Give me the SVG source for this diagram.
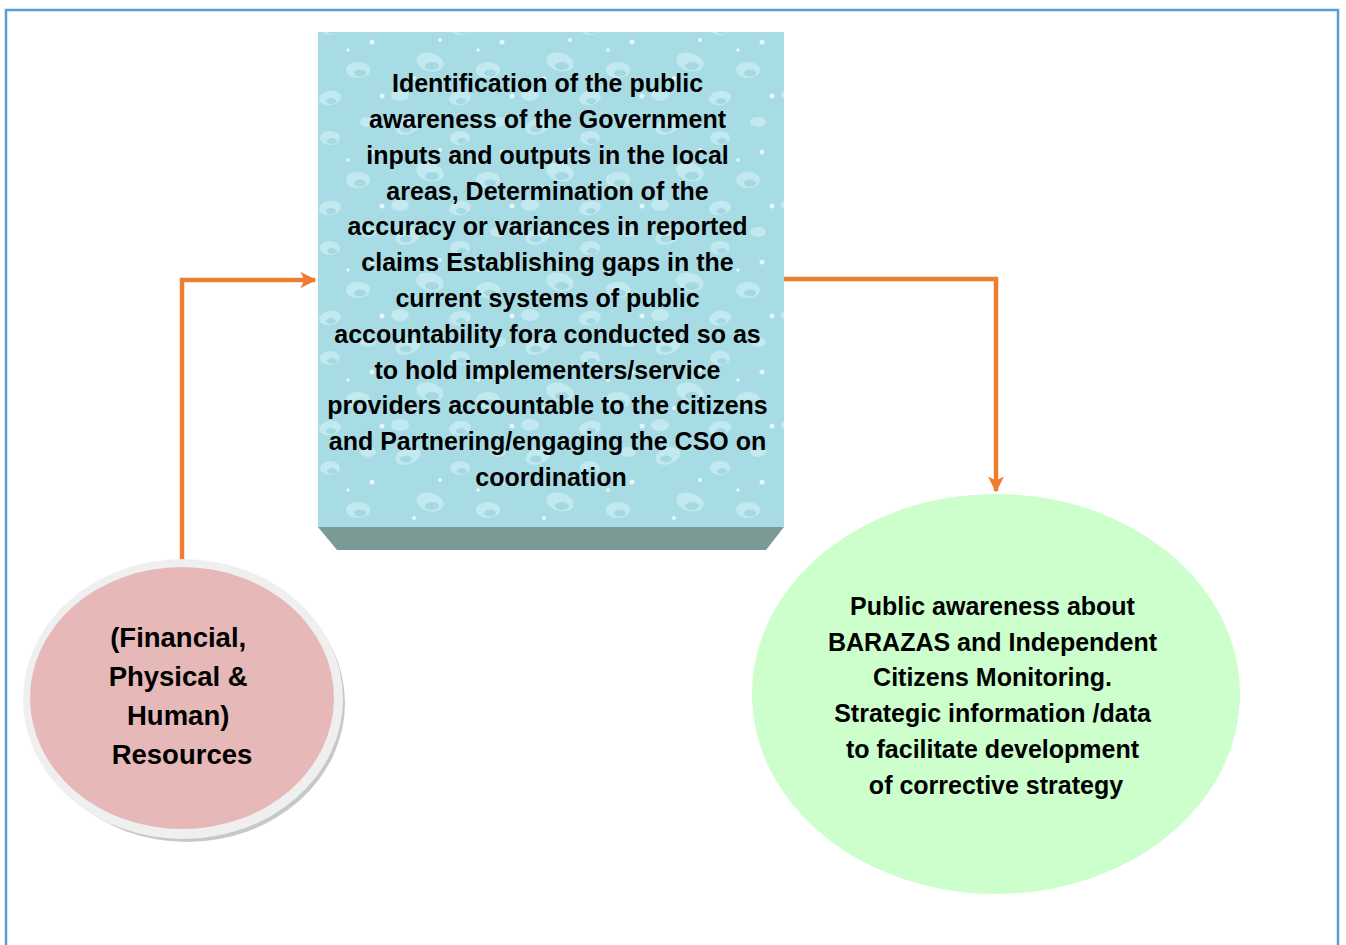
<svg xmlns="http://www.w3.org/2000/svg" width="1346" height="945" viewBox="0 0 1346 945">
<style>
.t{font-family:"Liberation Sans",Arial,sans-serif;font-weight:bold;fill:#000;text-anchor:middle}
.b{font-size:25px}
.g{font-size:25px}
.l{font-size:27.5px}
.conn{fill:none;stroke:#ed7d31;stroke-width:4.5}
.dl{fill:#c6ebf1;opacity:0.85}
.dd{fill:#8ccbd6;opacity:0.55}
.dh{fill:#e4f6f9}
</style>
<defs>
<marker id="ah" viewBox="0 0 10 10" refX="9" refY="5" markerWidth="3.6" markerHeight="3.6" orient="auto" markerUnits="strokeWidth">
<path d="M0,0 L10,5 L0,10 L2.5,5 z" fill="#ed7d31"/>
</marker>
<pattern id="water" width="130" height="110" patternUnits="userSpaceOnUse">
<rect width="130" height="110" fill="#a8dce5"/>
<ellipse class="dl" cx="18" cy="16" rx="13" ry="8" transform="rotate(-20 18 16)"/>
<ellipse class="dd" cx="16" cy="19" rx="6" ry="3.5"/>
<ellipse class="dl" cx="70" cy="28" rx="10" ry="7"/>
<ellipse class="dd" cx="72" cy="31" rx="5" ry="3"/>
<ellipse class="dl" cx="108" cy="12" rx="8" ry="5"/>
<ellipse class="dl" cx="40" cy="62" rx="14" ry="9" transform="rotate(15 40 62)"/>
<ellipse class="dd" cx="42" cy="66" rx="7" ry="4"/>
<ellipse class="dl" cx="98" cy="70" rx="12" ry="8"/>
<ellipse class="dd" cx="100" cy="73" rx="6" ry="3.5"/>
<ellipse class="dl" cx="10" cy="95" rx="9" ry="6"/>
<ellipse class="dl" cx="70" cy="98" rx="11" ry="7" transform="rotate(-10 70 98)"/>
<ellipse class="dd" cx="71" cy="101" rx="5" ry="3"/>
<circle class="dh" cx="112" cy="42" r="2.5"/>
<circle class="dh" cx="50" cy="40" r="2"/>
<circle class="dh" cx="24" cy="78" r="2"/>
<circle class="dh" cx="122" cy="96" r="2.5"/>
<circle class="dh" cx="88" cy="50" r="1.8"/>
</pattern>
</defs>
<rect x="6" y="10" width="1332" height="950" fill="#fff" stroke="#5b9bd5" stroke-width="2.5"/>

<g id="connectors">
<path class="conn" d="M182,562 V280 H315" marker-end="url(#ah)"/>
<path class="conn" d="M784,279 H996 V491" marker-end="url(#ah)"/>
</g>

<g id="node-box">
<rect x="318" y="32" width="466" height="495" fill="url(#water)"/>
<polygon points="318,527 784,527 766,550 337,550" fill="#7b9995"/>
<text class="t b">
<tspan x="551" y="92">Identification of the public</tspan>
<tspan x="551" y="128">awareness of the Government</tspan>
<tspan x="551" y="164">inputs and outputs in the local</tspan>
<tspan x="551" y="200">areas, Determination of the</tspan>
<tspan x="551" y="235">accuracy or variances in reported</tspan>
<tspan x="551" y="271">claims Establishing gaps in the</tspan>
<tspan x="551" y="307">current systems of public</tspan>
<tspan x="551" y="343">accountability fora conducted so as</tspan>
<tspan x="551" y="379">to hold implementers/service</tspan>
<tspan x="551" y="414">providers accountable to the citizens</tspan>
<tspan x="551" y="450">and Partnering/engaging the CSO on</tspan>
<tspan x="551" y="486">coordination</tspan>
</text>
</g>

<g id="node-resources">
<ellipse cx="187" cy="703" rx="158" ry="139" fill="#c8c8c8"/>
<ellipse cx="183" cy="699" rx="160" ry="140" fill="#efefef"/>
<ellipse cx="182" cy="698" rx="152" ry="131" fill="#e6b8b7"/>
<text class="t l">
<tspan x="182" y="647">(Financial,</tspan>
<tspan x="182" y="686">Physical &amp;</tspan>
<tspan x="182" y="725">Human)</tspan>
<tspan x="182" y="764">Resources</tspan>
</text>
</g>

<g id="node-outcome">
<ellipse cx="996" cy="694" rx="244" ry="200" fill="#ccffcc"/>
<text class="t g">
<tspan x="996" y="615">Public awareness about</tspan>
<tspan x="996" y="651">BARAZAS and Independent</tspan>
<tspan x="996" y="686">Citizens Monitoring.</tspan>
<tspan x="996" y="722">Strategic information /data</tspan>
<tspan x="996" y="758">to facilitate development</tspan>
<tspan x="996" y="794">of corrective strategy</tspan>
</text>
</g>
</svg>
